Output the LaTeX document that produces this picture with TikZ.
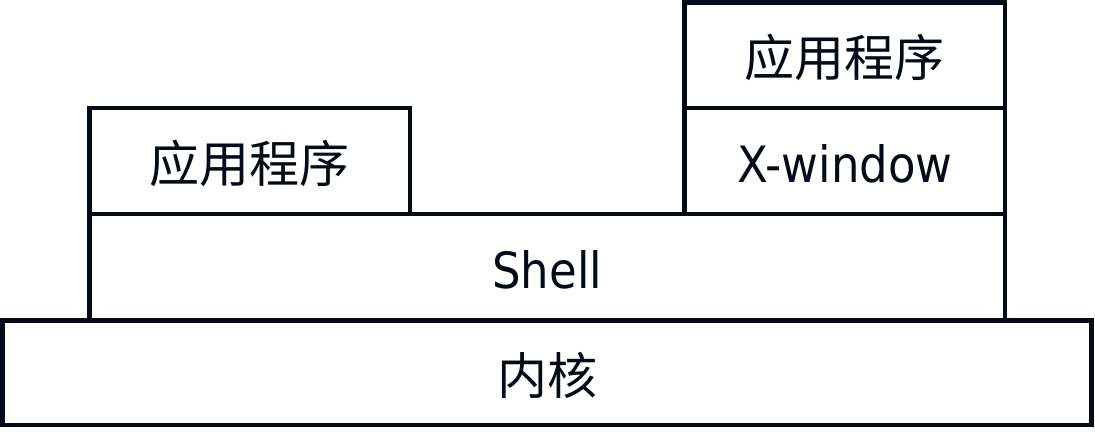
\documentclass[tikz,border=0pt]{standalone}
\usepackage{fontspec}
\setmainfont{DejaVu Sans Condensed}
\newfontfamily\cjk{Noto Sans CJK SC}
\usepackage{xcolor}
\usepackage{tikz}
\usetikzlibrary{positioning}

\definecolor{inkblue}{RGB}{5,10,25}

\begin{document}
\begin{tikzpicture}[x=1pt, y=-1pt,
    layer/.style={rectangle, draw=inkblue, line width=4.5pt, fill=white, text=inkblue,
      inner sep=0pt, text height=45pt, text depth=2pt,
      minimum width=320.5pt, minimum height=106pt, font=\fontsize{50}{52}\selectfont}]
          \useasboundingbox (0,0) rectangle (1095,434);

          \node[layer, minimum width=1089pt, minimum height=104.5pt] (kernel) at (547,372.75) {\cjk 内核};
          \node[layer, minimum width=915.5pt, minimum height=106.5pt] (shell) at (547.25,267.25) {Shell};
          \node[layer] (app) at (249.75,161) {\cjk 应用程序};
          \node[layer] (xwin) at (844.75,161) {X-window};
          \node[layer, minimum height=105.7pt] (xapp) at (844.75,55.15) {\cjk 应用程序};
        \end{tikzpicture}
\end{document}
